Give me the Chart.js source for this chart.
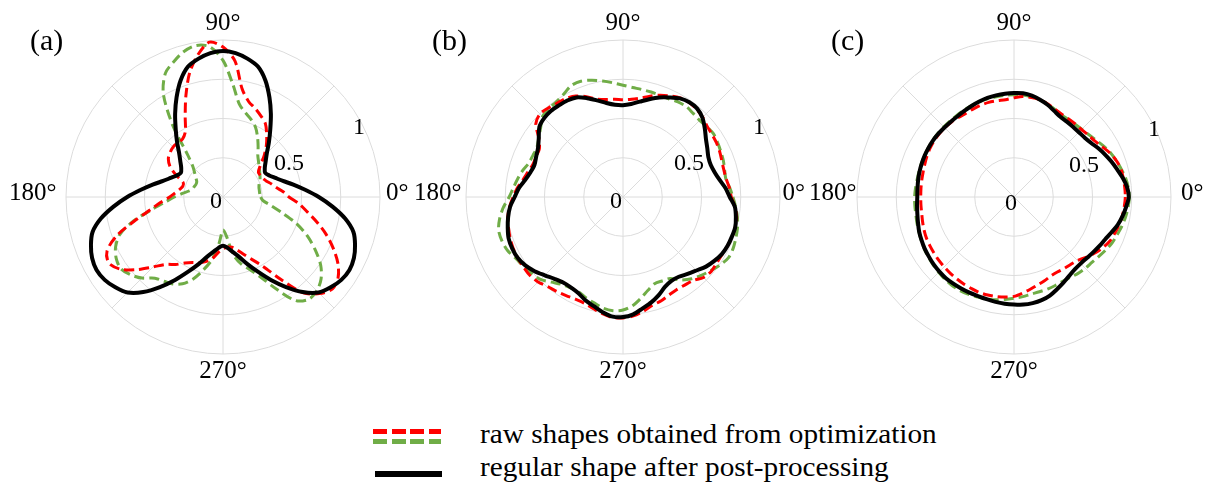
<!DOCTYPE html>
<html><head><meta charset="utf-8">
<script src="https://cdn.jsdelivr.net/npm/chart.js@4.4.1/dist/chart.umd.min.js"></script>
<style>
html,body{margin:0;padding:0;background:#fff;}
#wrap{position:relative;width:1209px;height:488px;overflow:hidden;background:#fff;font-family:'Liberation Serif','Times New Roman',serif;color:#000;}
.pc{position:absolute;}
.plabel{position:absolute;font-size:30px;line-height:30px;white-space:nowrap;}
.legtxt{position:absolute;font-size:28px;line-height:28px;white-space:nowrap;transform-origin:0 0;transform:scaleX(1.045);}
.legline{position:absolute;}
</style></head><body>
<div id="wrap">
  <div class="pc" id="pa"><canvas id="ca"></canvas></div>
  <div class="pc" id="pb"><canvas id="cb"></canvas></div>
  <div class="pc" id="pc"><canvas id="cc"></canvas></div>
  <div class="plabel" id="la" style="left:30px;top:25px;"></div>
  <div class="plabel" id="lb" style="left:432px;top:25px;"></div>
  <div class="plabel" id="lc" style="left:831px;top:25px;"></div>
  <div class="legline" style="left:373px;top:428.5px;width:68px;height:5px;background:repeating-linear-gradient(to right,#ff0000 0 14px,rgba(0,0,0,0) 14px 18.7px);"></div>
  <div class="legline" style="left:373px;top:439px;width:68px;height:5px;background:repeating-linear-gradient(to right,#70ad47 0 14px,rgba(0,0,0,0) 14px 18.7px);"></div>
  <div class="legline" style="left:375px;top:471px;width:67px;height:6px;background:#000;"></div>
  <div class="legtxt" id="lt1" style="left:480px;top:420px;"></div>
  <div class="legtxt" id="lt2" style="left:480px;top:453px;"></div>
</div>
<script>
// ---- data (angles in degrees, counter-clockwise from 0° at the right) ----
const ANGLES = [0,5,10,15,20,25,30,35,40,45,50,55,60,65,70,75,80,85,90,95,100,105,110,115,
  120,125,130,135,140,145,150,155,160,165,170,175,180,185,190,195,200,205,210,215,220,225,230,235,
  240,245,250,255,260,265,270,275,280,285,290,295,300,305,310,315,320,325,330,335,340,345,350,355];
const ANGLE_TICKS = {0:'0°', 90:'90°', 180:'180°', 270:'270°'};
const RADIAL_TICKS = [0, 0.5, 1];
const PANEL_LABELS = ['(a)','(b)','(c)'];
const LEGEND_LABELS = ['raw shapes obtained from optimization','regular shape after post-processing'];

// panel (a)
const A_RAW_RED = [0.42,0.385,0.345,0.32,0.295,0.28,0.275,0.275,0.31,0.37,0.43,0.485,
  0.54,0.57,0.60,0.63,0.70,0.87,0.955,0.99,0.92,0.82,0.69,0.57,
  0.48,0.45,0.45,0.45,0.44,0.425,0.39,0.33,0.27,0.265,0.28,0.305,
  0.34,0.40,0.47,0.58,0.72,0.815,0.84,0.80,0.72,0.63,0.56,0.525,
  0.485,0.46,0.445,0.425,0.40,0.355,0.33,0.32,0.325,0.35,0.39,0.44,
  0.51,0.64,0.797,0.87,0.91,0.895,0.845,0.775,0.70,0.62,0.545,0.485];
const A_RAW_GREEN = [0.24,0.235,0.235,0.237,0.245,0.26,0.272,0.285,0.30,0.32,0.345,0.39,
  0.44,0.49,0.525,0.555,0.60,0.72,0.87,0.96,0.98,0.96,0.917,0.869,
  0.76,0.56,0.35,0.27,0.235,0.21,0.193,0.19,0.195,0.20,0.22,0.26,
  0.31,0.37,0.46,0.59,0.70,0.755,0.785,0.795,0.77,0.73,0.675,0.655,
  0.64,0.61,0.555,0.48,0.405,0.30,0.21,0.25,0.37,0.44,0.49,0.56,
  0.675,0.805,0.85,0.845,0.815,0.76,0.68,0.595,0.50,0.39,0.31,0.255];
const A_REGULAR = [0.61,0.525,0.455,0.395,0.355,0.325,0.31,0.325,0.355,0.395,0.455,0.525,
  0.61,0.70,0.79,0.86,0.895,0.92,0.93,0.92,0.895,0.86,0.79,0.70,
  0.61,0.525,0.455,0.395,0.355,0.325,0.31,0.325,0.355,0.395,0.455,0.525,
  0.61,0.70,0.79,0.86,0.895,0.92,0.93,0.92,0.895,0.86,0.79,0.70,
  0.61,0.525,0.455,0.395,0.355,0.325,0.31,0.325,0.355,0.395,0.455,0.525,
  0.61,0.70,0.79,0.86,0.895,0.92,0.93,0.92,0.895,0.86,0.79,0.70];

// panel (b)
const B_RAW_RED = [0.69,0.68,0.667,0.665,0.67,0.68,0.688,0.693,0.70,0.718,0.73,0.735,
  0.728,0.71,0.69,0.665,0.64,0.625,0.62,0.625,0.63,0.645,0.68,0.71,
  0.725,0.73,0.74,0.748,0.725,0.655,0.615,0.61,0.61,0.625,0.645,0.675,
  0.70,0.725,0.745,0.755,0.765,0.772,0.775,0.775,0.775,0.765,0.745,0.735,
  0.725,0.718,0.72,0.735,0.755,0.77,0.77,0.76,0.74,0.715,0.705,0.69,
  0.682,0.685,0.695,0.725,0.735,0.73,0.73,0.735,0.74,0.74,0.735,0.715];
const B_RAW_GREEN = [0.70,0.682,0.665,0.67,0.68,0.687,0.695,0.703,0.697,0.69,0.695,0.703,
  0.70,0.69,0.69,0.692,0.695,0.70,0.712,0.73,0.75,0.77,0.785,0.782,
  0.756,0.74,0.735,0.725,0.685,0.655,0.633,0.632,0.637,0.66,0.68,0.70,
  0.725,0.765,0.798,0.82,0.82,0.81,0.786,0.772,0.758,0.743,0.708,0.68,
  0.668,0.667,0.685,0.70,0.72,0.727,0.72,0.695,0.655,0.615,0.588,0.59,
  0.60,0.645,0.68,0.705,0.73,0.755,0.775,0.774,0.765,0.755,0.74,0.72];
const B_REGULAR = [0.68,0.655,0.625,0.605,0.595,0.60,0.62,0.645,0.68,0.715,0.735,0.737,
  0.725,0.70,0.675,0.645,0.617,0.595,0.585,0.59,0.608,0.637,0.67,0.70,
  0.71,0.712,0.715,0.71,0.695,0.655,0.625,0.61,0.60,0.61,0.632,0.665,
  0.69,0.722,0.743,0.76,0.775,0.778,0.775,0.76,0.735,0.705,0.68,0.665,
  0.665,0.675,0.70,0.72,0.745,0.765,0.765,0.75,0.72,0.695,0.665,0.632,
  0.617,0.62,0.64,0.662,0.69,0.71,0.727,0.735,0.738,0.74,0.73,0.715];

// panel (c)
const C_RAW_RED = [0.709,0.708,0.706,0.704,0.69,0.67,0.645,0.625,0.616,0.608,0.607,0.607,
  0.608,0.617,0.63,0.641,0.643,0.643,0.632,0.622,0.622,0.624,0.622,0.618,
  0.615,0.618,0.622,0.624,0.623,0.622,0.618,0.612,0.605,0.60,0.597,0.595,
  0.594,0.595,0.597,0.603,0.61,0.616,0.619,0.622,0.626,0.629,0.633,0.636,
  0.64,0.643,0.647,0.646,0.644,0.64,0.633,0.615,0.597,0.58,0.568,0.555,
  0.552,0.556,0.561,0.572,0.598,0.625,0.65,0.671,0.682,0.692,0.70,0.705];
const C_RAW_GREEN = [0.735,0.73,0.72,0.705,0.69,0.675,0.655,0.635,0.62,0.61,0.605,0.603,
  0.605,0.615,0.63,0.64,0.648,0.652,0.652,0.65,0.648,0.647,0.645,0.642,
  0.638,0.635,0.633,0.632,0.632,0.632,0.63,0.628,0.627,0.627,0.627,0.63,
  0.633,0.634,0.635,0.64,0.645,0.652,0.66,0.666,0.672,0.678,0.684,0.688,
  0.688,0.684,0.678,0.672,0.665,0.655,0.645,0.637,0.628,0.625,0.624,0.622,
  0.62,0.625,0.635,0.642,0.648,0.66,0.675,0.69,0.70,0.712,0.722,0.73];
const C_REGULAR = [0.731,0.723,0.703,0.68,0.66,0.64,0.62,0.60,0.588,0.584,0.584,0.586,
  0.59,0.605,0.625,0.641,0.655,0.663,0.662,0.66,0.657,0.653,0.647,0.64,
  0.633,0.628,0.626,0.626,0.628,0.629,0.628,0.627,0.625,0.623,0.62,0.617,
  0.616,0.62,0.625,0.633,0.643,0.65,0.657,0.662,0.668,0.672,0.675,0.674,
  0.673,0.672,0.671,0.674,0.678,0.682,0.685,0.688,0.686,0.68,0.668,0.648,
  0.63,0.613,0.602,0.60,0.605,0.615,0.627,0.64,0.66,0.684,0.702,0.717];

// ---- styling ----
const RED = '#ff0000', GREEN = '#70ad47', BLACK = '#000000', GRID = '#dcdcdc';
const FONT = "'Liberation Serif', 'Times New Roman', serif";

document.getElementById('la').textContent = PANEL_LABELS[0];
document.getElementById('lb').textContent = PANEL_LABELS[1];
document.getElementById('lc').textContent = PANEL_LABELS[2];
document.getElementById('lt1').textContent = LEGEND_LABELS[0];
document.getElementById('lt2').textContent = LEGEND_LABELS[1];

// radar draws clockwise; reorder so the angles run counter-clockwise from 0° at the right
const N = ANGLES.length;
const ccw = arr => arr.map((_, i) => arr[(N - i) % N]);
const RADAR_LABELS = ccw(ANGLES);
const isSide = a => a === 0 || a === 180;

const radialTickLabels = {
  id: 'radialTickLabels',
  afterDraw(chart, args, opts) {
    const s = chart.scales.r, ctx = chart.ctx;
    const ox = opts.dx || 0, oy = opts.dy || 0;
    ctx.save();
    ctx.font = "24px " + FONT;
    ctx.fillStyle = '#000';
    ctx.textAlign = 'center';
    ctx.textBaseline = 'middle';
    const a = 27 * Math.PI / 180;
    RADIAL_TICKS.forEach(v => {
      let x, y;
      if (v === 0) { x = s.xCenter - 7; y = s.yCenter + 5; }
      else {
        const d = s.getDistanceFromCenterForValue(v) - 4.5;
        x = s.xCenter + d * Math.cos(a);
        y = s.yCenter - d * Math.sin(a);
      }
      ctx.fillText(String(v), x + ox, y + oy);
    });
    ctx.restore();
  }
};

// panel layout: target centre, canvas size, padding of the 0°/180° labels, tick label shift
function makePanel(canvasId, boxId, cfg, red, green, regular) {
  const canvas = document.getElementById(canvasId);
  canvas.width = cfg.size; canvas.height = cfg.size;
  const chart = new Chart(canvas, {
    type: 'radar',
    data: {
      labels: RADAR_LABELS,
      datasets: [
        { label: 'regular', data: ccw(regular), borderColor: BLACK, borderWidth: 4, tension: 0.3 },
        { label: 'raw red', data: ccw(red), borderColor: RED, borderWidth: 3, borderDash: [10, 5], tension: 0.3 },
        { label: 'raw green', data: ccw(green), borderColor: GREEN, borderWidth: 3, borderDash: [10, 5], tension: 0.3 }
      ]
    },
    options: {
      responsive: false,
      animation: false,
      devicePixelRatio: 1,
      layout: { padding: 0 },
      elements: { point: { radius: 0, hoverRadius: 0 }, line: { fill: false } },
      plugins: { legend: { display: false }, tooltip: { enabled: false },
                 radialTickLabels: { dx: cfg.tdx, dy: cfg.tdy } },
      scales: {
        r: {
          startAngle: 90,
          min: 0, max: 1,
          ticks: { stepSize: 0.25, display: false },
          grid: { circular: true, color: GRID, lineWidth: 1 },
          angleLines: {
            display: true, color: GRID,
            lineWidth: ctx => (RADAR_LABELS[ctx.index] % 45 === 0 ? 1 : 0)
          },
          pointLabels: {
            display: true,
            color: '#000',
            font: ctx => isSide(RADAR_LABELS[ctx.index])
              ? { family: FONT, size: 25, lineHeight: '8px' }
              : { family: FONT, size: 25, lineHeight: 1.2 },
            callback: v => isSide(v) ? [ANGLE_TICKS[v], ''] : (ANGLE_TICKS[v] || ''),
            padding: ctx => {
              const a = RADAR_LABELS[ctx.index];
              return a === 90 ? 2 : a === 270 ? 2.5 : a === 0 ? cfg.padR : a === 180 ? cfg.padL : 0;
            }
          }
        }
      }
    },
    plugins: [radialTickLabels]
  });
  const s = chart.scales.r;
  const box = document.getElementById(boxId);
  box.style.left = Math.round(cfg.cx - s.xCenter) + 'px';
  box.style.top = Math.round(cfg.cy - s.yCenter) + 'px';
  return chart;
}

makePanel('ca', 'pa', { cx: 223, cy: 197, size: 428, padL: 9.5, padR: 6, tdx: 0, tdy: 0 }, A_RAW_RED, A_RAW_GREEN, A_REGULAR);
makePanel('cb', 'pb', { cx: 623, cy: 197, size: 418, padL: 4.5, padR: 2.5, tdx: 0, tdy: 0 }, B_RAW_RED, B_RAW_GREEN, B_REGULAR);
makePanel('cc', 'pc', { cx: 1014, cy: 197, size: 410, padL: 0.5, padR: 10, tdx: 4, tdy: 2 }, C_RAW_RED, C_RAW_GREEN, C_REGULAR);
</script>
</body></html>
